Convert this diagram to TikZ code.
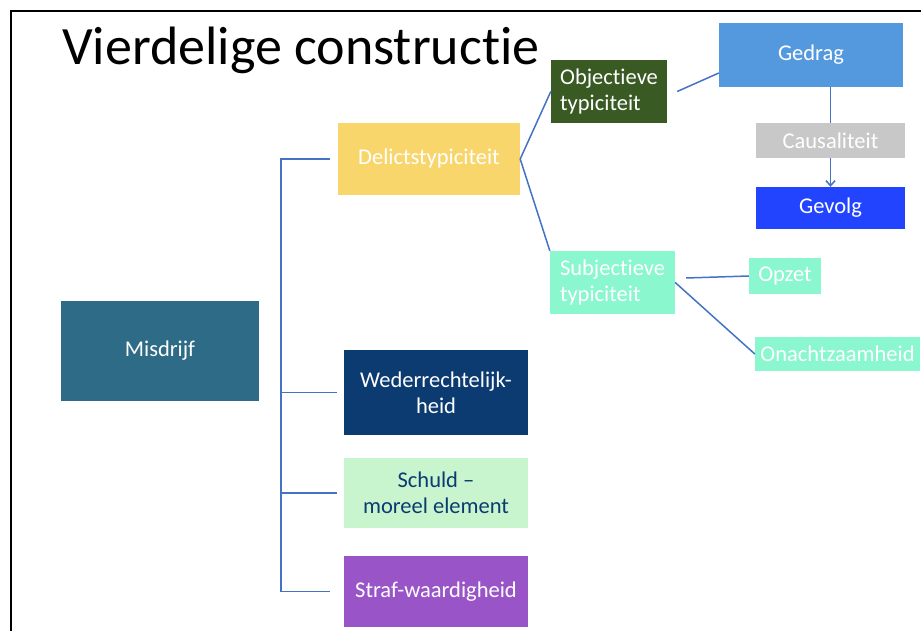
\documentclass[tikz,border=0pt]{standalone}
\usepackage{fontspec}
\setmainfont{Carlito}[Ligatures=NoCommon]
\usetikzlibrary{arrows.meta}

\definecolor{misdrijfc}{HTML}{2D6B87}
\definecolor{delictc}{HTML}{F9D66B}
\definecolor{objc}{HTML}{3A5A24}
\definecolor{gedragc}{HTML}{5499DD}
\definecolor{causc}{HTML}{C8C8C8}
\definecolor{gevolgc}{HTML}{2244FF}
\definecolor{mintc}{HTML}{8AF7CE}
\definecolor{wederc}{HTML}{0B3B70}
\definecolor{schuldc}{HTML}{C8F5CD}
\definecolor{strafc}{HTML}{9955C8}
\definecolor{linkc}{HTML}{4472C4}

\begin{document}
\begin{tikzpicture}[x=1pt,y=-1pt,>={Straight Barb[length=5pt,width=9pt]},
  box/.style={inner sep=2pt,text=white,align=center,
    font=\fontsize{22.5}{26}\selectfont},
  link/.style={color=linkc,line width=1.5pt}]

\useasboundingbox (0,0) rectangle (921,631);
\fill[white] (0,0) rectangle (921,631);

% slide frame
\draw[line width=2pt] (11,631)--(11,11)--(921,11);

\node[anchor=base west,inner sep=0pt,font=\fontsize{54}{60}\selectfont] (titel) at (62,65) {Vierdelige constructie};

% main branch
\node[box,fill=misdrijfc,minimum width=198pt,minimum height=100pt] (misdrijf) at (160,351) {Misdrijf};
\node[box,fill=delictc,minimum width=182pt,minimum height=72pt] (delict) at (429,159) {Delictstypiciteit};
\node[box,fill=wederc,minimum width=184pt,minimum height=85pt] (weder) at (436,392.5) {Wederrechtelijk-\\heid};
\node[box,fill=schuldc,text=wederc,minimum width=184pt,minimum height=70pt] (schuld) at (436,493) {Schuld --\\moreel element};
\node[box,fill=strafc,minimum width=184pt,minimum height=71pt] (straf) at (436,591.5) {Straf-waardigheid};

% delictstypiciteit
\node[box,fill=objc,align=left,minimum width=116pt,minimum height=63pt] (obj) at (609,91.5) {Objectieve\\typiciteit};
\node[box,fill=mintc,align=left,minimum width=125pt,minimum height=63pt] (subj) at (612.5,282.5) {Subjectieve\\typiciteit};

\node[box,fill=gedragc,minimum width=184pt,minimum height=64pt] (gedrag) at (811,55) {Gedrag};
\node[box,fill=gevolgc,minimum width=149pt,minimum height=42pt] (gevolg) at (830.5,208) {Gevolg};
\node[box,fill=mintc,minimum width=72pt,minimum height=36pt] (opzet) at (785,276) {Opzet};
\node[box,fill=mintc,minimum width=165pt,minimum height=34pt] (onacht) at (837.5,354) {Onachtzaamheid};

\coordinate (spine) at (281,0);
\draw[link] ([xshift=-8pt]delict.west)--(spine |- delict.west) |- ([xshift=-14pt]straf.west);
\draw[link] (spine |- weder.west)--([xshift=-7pt]weder.west);
\draw[link] (spine |- schuld.west)--([xshift=-7pt]schuld.west);

\draw[link] (delict.east)--(obj.west);
\draw[link] (delict.east)--(subj.north west);
\draw[link] ([xshift=10pt]obj.east)--([yshift=-18pt]gedrag.west);
\draw[link] ([xshift=11pt,yshift=4.5pt]subj.east)--(opzet.west);
\draw[link] (subj.east)--(onacht.west);
\draw[link,->] (gedrag.south -| gevolg.north)--(gevolg.north);

\node[box,fill=causc,minimum width=149pt,minimum height=35pt] (caus) at (830.5,140.5) {Causaliteit};

\end{tikzpicture}
\end{document}
